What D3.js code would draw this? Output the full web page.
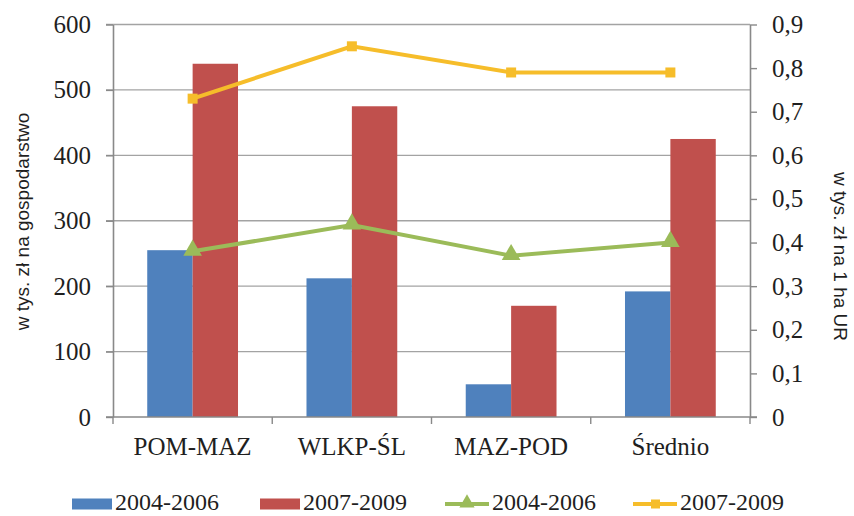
<!DOCTYPE html>
<html>
<head>
<meta charset="utf-8">
<script src="https://cdn.jsdelivr.net/npm/d3@7"></script>
<style>
  body { margin: 0; background: #fff; }
  svg text { fill: #1f1f1f; }
</style>
</head>
<body>
<div id="chart"></div>
<script>
// data
var categories = ['POM-MAZ', 'WLKP-ŚL', 'MAZ-POD', 'Średnio'];
var barSeriesNames = ['2004-2006', '2007-2009'];
var bars2004 = [255, 212, 50, 192];
var bars2007 = [540, 475, 170, 425];
var line2004 = [0.38, 0.44, 0.37, 0.40];
var line2007 = [0.73, 0.85, 0.79, 0.79];
var leftTicks = [0, 100, 200, 300, 400, 500, 600];
var rightTicks = [0, 0.1, 0.2, 0.3, 0.4, 0.5, 0.6, 0.7, 0.8, 0.9];

var drawChart = function(target){
  var width = 854, height = 516;
  var plotLeft = 113, plotRight = 750, plotTop = 24.5, plotBottom = 417;
  var axisColor = '#898989', gridColor = '#a3a3a3';
  var serif = '"Liberation Serif", "Times New Roman", serif';
  var sans = '"Liberation Sans", Arial, sans-serif';

  var svg = d3.select(target).append('svg')
    .attr('width', width)
    .attr('height', height);

  var x0 = d3.scaleBand().domain(categories).range([plotLeft, plotRight]).padding(0);
  var groupWidth = x0.bandwidth() * 0.57;
  var x1 = d3.scaleBand().domain(barSeriesNames).range([0, groupWidth]).padding(0);
  var yL = d3.scaleLinear().domain([0, 600]).range([plotBottom, plotTop]);
  var yR = d3.scaleLinear().domain([0, 0.9]).range([plotBottom, plotTop]);
  var cx = function(i){ return x0(categories[i]) + x0.bandwidth() / 2; };

  // gridlines
  svg.append('g').selectAll('line')
    .data(leftTicks.slice(1))
    .enter().append('line')
    .attr('x1', plotLeft - 7).attr('x2', plotRight)
    .attr('y1', function(d){ return yL(d); })
    .attr('y2', function(d){ return yL(d); })
    .attr('stroke', gridColor)
    .attr('stroke-width', 1.4);

  // bars
  var barData = categories.map(function(c, i){
    return [{cat: c, key: barSeriesNames[0], v: bars2004[i], color: '#4F81BD'},
            {cat: c, key: barSeriesNames[1], v: bars2007[i], color: '#C0504D'}];
  });
  svg.append('g').selectAll('g')
    .data(barData)
    .enter().append('g')
    .attr('transform', function(d){ return 'translate(' + (x0(d[0].cat) + (x0.bandwidth() - groupWidth) / 2) + ',0)'; })
    .selectAll('rect')
    .data(function(d){ return d; })
    .enter().append('rect')
    .attr('x', function(d){ return x1(d.key); })
    .attr('width', x1.bandwidth())
    .attr('y', function(d){ return yL(d.v); })
    .attr('height', function(d){ return plotBottom - yL(d.v); })
    .attr('fill', function(d){ return d.color; });

  // axes
  var leftAxis = svg.append('g')
    .attr('transform', 'translate(' + plotLeft + ',0)')
    .call(d3.axisLeft(yL).tickValues(leftTicks).tickSize(7).tickPadding(15).tickSizeOuter(0));
  var rightAxis = svg.append('g')
    .attr('transform', 'translate(' + plotRight + ',0)')
    .call(d3.axisRight(yR).tickValues(rightTicks).tickSize(7).tickPadding(15).tickSizeOuter(0)
      .tickFormat(function(d){ return d === 0 ? '0' : d3.format('.1f')(d).replace('.', ','); }));

  [leftAxis, rightAxis].forEach(function(a){
    a.select('.domain').attr('stroke', axisColor).attr('stroke-width', 1.6);
    a.selectAll('.tick line').attr('stroke', axisColor).attr('stroke-width', 1.4);
    a.selectAll('text').style('font-family', serif).style('font-size', '25px').attr('fill', '#1f1f1f');
  });

  // bottom axis
  svg.append('line')
    .attr('x1', plotLeft - 7).attr('x2', plotRight + 7)
    .attr('y1', plotBottom).attr('y2', plotBottom)
    .attr('stroke', axisColor).attr('stroke-width', 1.6);
  var bounds = categories.map(function(c){ return x0(c); }).concat([plotRight]);
  svg.append('g').selectAll('line')
    .data(bounds)
    .enter().append('line')
    .attr('x1', function(d){ return d; }).attr('x2', function(d){ return d; })
    .attr('y1', plotBottom).attr('y2', plotBottom + 7)
    .attr('stroke', axisColor).attr('stroke-width', 1.4);
  svg.append('g').selectAll('text')
    .data(categories)
    .enter().append('text')
    .attr('x', function(d, i){ return cx(i); })
    .attr('y', 455)
    .attr('text-anchor', 'middle')
    .style('font-family', serif)
    .style('font-size', '25px')
    .text(function(d){ return d; });

  // lines
  var lineGen = d3.line()
    .x(function(d, i){ return cx(i); })
    .y(function(d){ return yR(d); });
  var triangle = d3.symbol().type(d3.symbolTriangle).size(150);

  svg.append('path')
    .datum(line2004)
    .attr('d', lineGen)
    .attr('fill', 'none')
    .attr('stroke', '#9BBB59')
    .attr('stroke-width', 4);
  svg.append('g').selectAll('path')
    .data(line2004)
    .enter().append('path')
    .attr('d', triangle)
    .attr('transform', function(d, i){ return 'translate(' + cx(i) + ',' + (yR(d) - 1) + ')'; })
    .attr('fill', '#9BBB59');

  svg.append('path')
    .datum(line2007)
    .attr('d', lineGen)
    .attr('fill', 'none')
    .attr('stroke', '#F6BD2A')
    .attr('stroke-width', 4);
  svg.append('g').selectAll('rect')
    .data(line2007)
    .enter().append('rect')
    .attr('x', function(d, i){ return cx(i) - 5; })
    .attr('y', function(d){ return yR(d) - 5; })
    .attr('width', 10).attr('height', 10)
    .attr('fill', '#F6BD2A');

  // axis titles
  svg.append('text')
    .attr('transform', 'translate(29,221.5) rotate(-90)')
    .attr('text-anchor', 'middle')
    .style('font-family', sans)
    .style('font-size', '19px')
    .text('w tys. zł na gospodarstwo');
  svg.append('text')
    .attr('transform', 'translate(834,256.5) rotate(90)')
    .attr('text-anchor', 'middle')
    .style('font-family', sans)
    .style('font-size', '19px')
    .text('w tys. zł na 1 ha UR');

  // legend
  var legendItems = [
    {label: '2004-2006', kind: 'rect', color: '#4F81BD', x: 72},
    {label: '2007-2009', kind: 'rect', color: '#C0504D', x: 260},
    {label: '2004-2006', kind: 'tri', color: '#9BBB59', x: 445},
    {label: '2007-2009', kind: 'sq', color: '#F6BD2A', x: 633}
  ];
  var legend = svg.append('g').selectAll('g')
    .data(legendItems)
    .enter().append('g')
    .attr('transform', function(d){ return 'translate(' + d.x + ',504)'; });
  legend.filter(function(d){ return d.kind === 'rect'; })
    .append('rect')
    .attr('x', 0).attr('y', -5.5).attr('width', 40).attr('height', 11)
    .attr('fill', function(d){ return d.color; });
  legend.filter(function(d){ return d.kind !== 'rect'; })
    .append('line')
    .attr('x1', 0).attr('x2', 44).attr('y1', 0).attr('y2', 0)
    .attr('stroke', function(d){ return d.color; })
    .attr('stroke-width', 4);
  legend.filter(function(d){ return d.kind === 'tri'; })
    .append('path')
    .attr('d', d3.symbol().type(d3.symbolTriangle).size(100))
    .attr('transform', 'translate(22,-1)')
    .attr('fill', function(d){ return d.color; });
  legend.filter(function(d){ return d.kind === 'sq'; })
    .append('rect')
    .attr('x', 18).attr('y', -4.5).attr('width', 9).attr('height', 9)
    .attr('fill', function(d){ return d.color; });
  legend.append('text')
    .attr('x', function(d){ return d.kind === 'rect' ? 43 : 47; })
    .attr('y', 6)
    .style('font-family', serif)
    .style('font-size', '24px')
    .text(function(d){ return d.label; });
};

drawChart(document.getElementById('chart'));
</script>
</body>
</html>
